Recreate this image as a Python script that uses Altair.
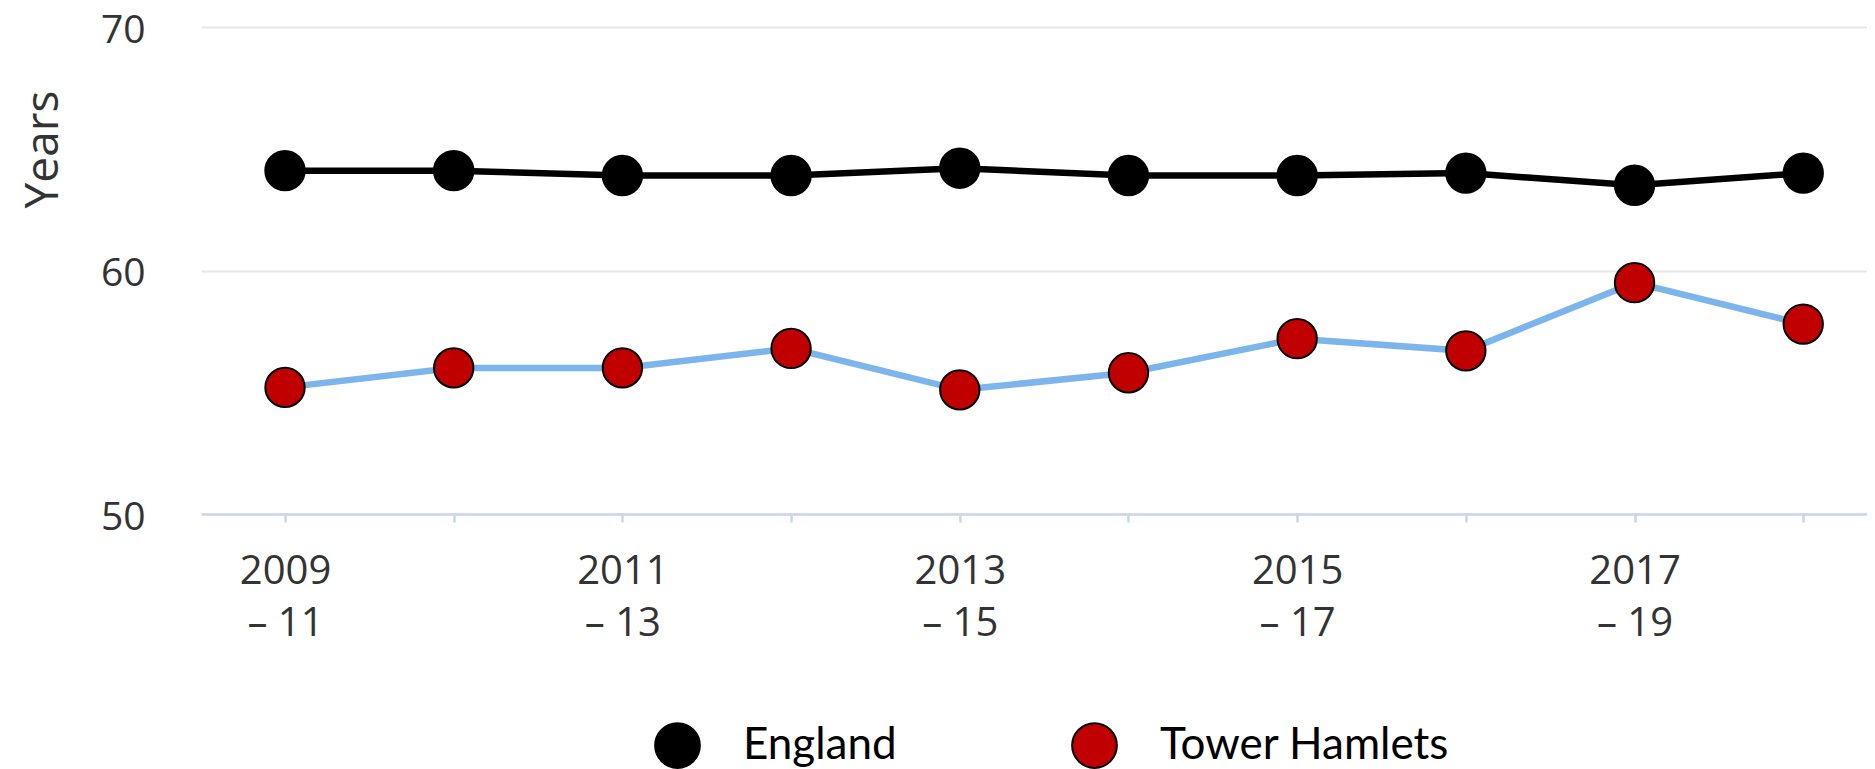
import altair as alt
import pandas as pd

# ---- data ----
categories = ["2009 - 11", "2010 - 12", "2011 - 13", "2012 - 14", "2013 - 15",
              "2014 - 16", "2015 - 17", "2016 - 18", "2017 - 19", "2018 - 20"]
england = [64.1, 64.1, 63.9, 63.9, 64.2, 63.9, 63.9, 64.0, 63.5, 64.0]
tower_hamlets = [55.2, 56.0, 56.0, 56.8, 55.1, 55.8, 57.2, 56.7, 59.5, 57.8]
series_names = ["England", "Tower Hamlets"]
tick_line1 = ["2009", "", "2011", "", "2013", "", "2015", "", "2017", ""]
tick_line2 = ["– 11", "", "– 13", "", "– 15", "", "– 17", "", "– 19", ""]
y_ticks = [50, 60, 70]

rows = []
for name, vals in zip(series_names, [england, tower_hamlets]):
    for i, (c, v) in enumerate(zip(categories, vals)):
        rows.append({"series": name, "period": c, "idx": i, "value": v})
df = pd.DataFrame(rows)

parts = []
for a, b in zip(tick_line1, tick_line2):
    if a:
        parts.append("['%s','%s']" % (a, b))
    else:
        parts.append("''")
label_expr = "[" + ",".join(parts) + "][datum.value]"

FONT = "Open Sans"

x_enc = alt.X(
    "idx:Q",
    scale=alt.Scale(domain=[-0.498, 9.378], nice=False, zero=False),
    axis=alt.Axis(
        values=list(range(len(categories))),
        labelExpr=label_expr,
        labelOverlap=False,
        labelFlush=False,
        grid=False,
        title=None,
        tickSize=8,
        tickColor="#ccd6eb",
        tickWidth=2.5,
        domainColor="#ccd6eb",
        domainWidth=2.5,
        labelFont=FONT,
        labelFontSize=40,
        labelColor="#333333",
        labelBaseline="top",
        labelLineHeight=52,
        labelPadding=29,
    ),
)

y_enc = alt.Y(
    "value:Q",
    scale=alt.Scale(domain=[50, 70], nice=False, zero=False),
    axis=alt.Axis(
        values=y_ticks,
        grid=True,
        gridColor="#e6e6e6",
        gridWidth=2,
        domain=False,
        ticks=False,
        labelFont=FONT,
        labelFontSize=39,
        labelColor="#333333",
        labelPadding=56,
        labelOffset=3,
        title="Years",
        titleFont=FONT,
        titleFontSize=46,
        titleFontWeight="normal",
        titleColor="#333333",
        titleAngle=270,
        titleX=-144,
        titleY=122,
        titleAlign="center",
        titleBaseline="alphabetic",
    ),
)

base = alt.Chart(df)

lines = base.mark_line(strokeWidth=6.5).encode(
    x=x_enc,
    y=y_enc,
    stroke=alt.Stroke("series:N",
                      scale=alt.Scale(domain=series_names, range=["#000000", "#7cb5ec"]),
                      legend=None),
    detail="series:N",
)

points = base.mark_point(filled=True, opacity=1, stroke="black", strokeWidth=2, size=1550).encode(
    x=x_enc,
    y=y_enc,
    fill=alt.Fill(
        "series:N",
        scale=alt.Scale(domain=series_names, range=["#000000", "#c00000"]),
        legend=alt.Legend(
            orient="none",
            legendX=453,
            legendY=695,
            direction="horizontal",
            title=None,
            symbolType="circle",
            symbolSize=2000,
            symbolStrokeColor="black",
            symbolStrokeWidth=2,
            symbolOpacity=1,
            labelFont="Lato",
            labelFontSize=44,
            labelColor="black",
            labelOffset=42,
            columnPadding=171,
            labelLimit=600,
            padding=0,
        ),
    ),
)

chart = (
    alt.layer(lines, points)
    .resolve_scale(fill="independent", stroke="independent")
    .properties(
        width=1666,
        height=487,
        autosize=alt.AutoSizeParams(type="none"),
        padding={"left": 193, "top": 19, "right": 0, "bottom": 255},
        background="white",
    )
    .configure_view(strokeWidth=0)
)

chart.save("out.html", embed_options={"renderer": "svg", "actions": False})
